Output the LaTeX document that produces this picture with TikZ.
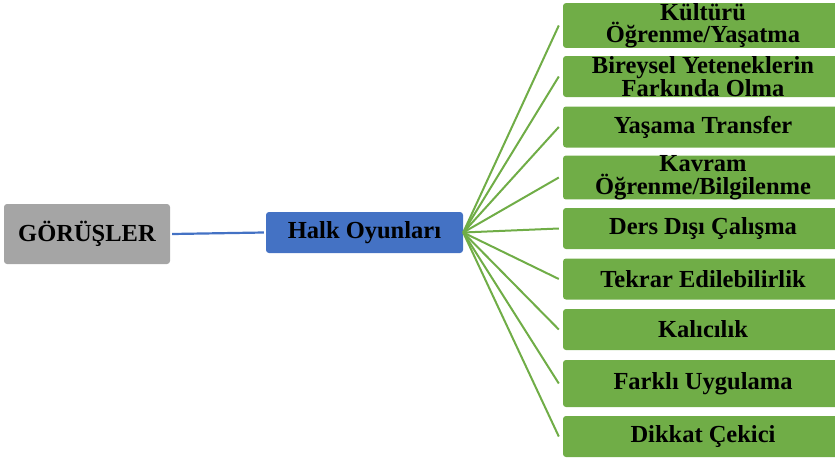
\documentclass[tikz,border=0pt]{standalone}
\usepackage{fontspec}
\setmainfont{Liberation Serif}
\usepackage{xcolor}
\definecolor{gorusgray}{HTML}{A5A5A5}
\definecolor{halkblue}{HTML}{4472C4}
\definecolor{itemgreen}{HTML}{70AD47}
\tikzstyle{root-box} = [fill=gorusgray, rounded corners=3pt, rectangle,
    inner sep=0pt, minimum width=166pt, minimum height=60pt,
    font=\fontsize{24.5}{24}\selectfont\bfseries]
\tikzstyle{topic-box} = [fill=halkblue, rounded corners=3pt, rectangle,
    inner sep=0pt, minimum width=197pt, minimum height=41pt,
    font=\fontsize{24.5}{24}\selectfont\bfseries]
\tikzstyle{item-box} = [fill=itemgreen, rounded corners=3pt, rectangle,
    inner sep=0pt, minimum width=280pt, minimum height=41pt, align=center,
    font=\fontsize{24.5}{22.5}\selectfont\bfseries]
\tikzstyle{root-line} = [draw=halkblue, line width=2.2pt]
\tikzstyle{item-line} = [draw=itemgreen, line width=2pt]

\begin{document}
\begin{tikzpicture}[x=1pt,y=-1pt]
\useasboundingbox (0,0) rectangle (835,458);
\node [root-box] (gorus) at (87,234) {GÖRÜŞLER};
\node [topic-box] (halk) at (364.5,232.5) {Halk Oyunları};
\node [item-box] (k1) at (703,25.5) {Kültürü\\Öğrenme/Yaşatma};
\node [item-box] (k2) at (703,76.5) {Bireysel Yeteneklerin\\Farkında Olma};
\node [item-box] (k3) at (703,127) {Yaşama Transfer};
\node [item-box] (k4) at (703,177.5) {Kavram\\Öğrenme/Bilgilenme};
\node [item-box] (k5) at (703,228.5) {Ders Dışı Çalışma};
\node [item-box] (k6) at (703,279) {Tekrar Edilebilirlik};
\node [item-box] (k7) at (703,329.5) {Kalıcılık};
\node [item-box, minimum height=47pt] (k8) at (703,383.5) {Farklı Uygulama};
\node [item-box] (k9) at (703,436.5) {Dikkat Çekici};
\draw [root-line] (gorus.east) ++(2,0) -- ([xshift=-2pt]halk.west);
\foreach \k in {k1,k2,k3,k4,k5,k6,k7,k8,k9}
    \draw [item-line] (halk.east) -- ([xshift=-4pt]\k.west);
\end{tikzpicture}
\end{document}
